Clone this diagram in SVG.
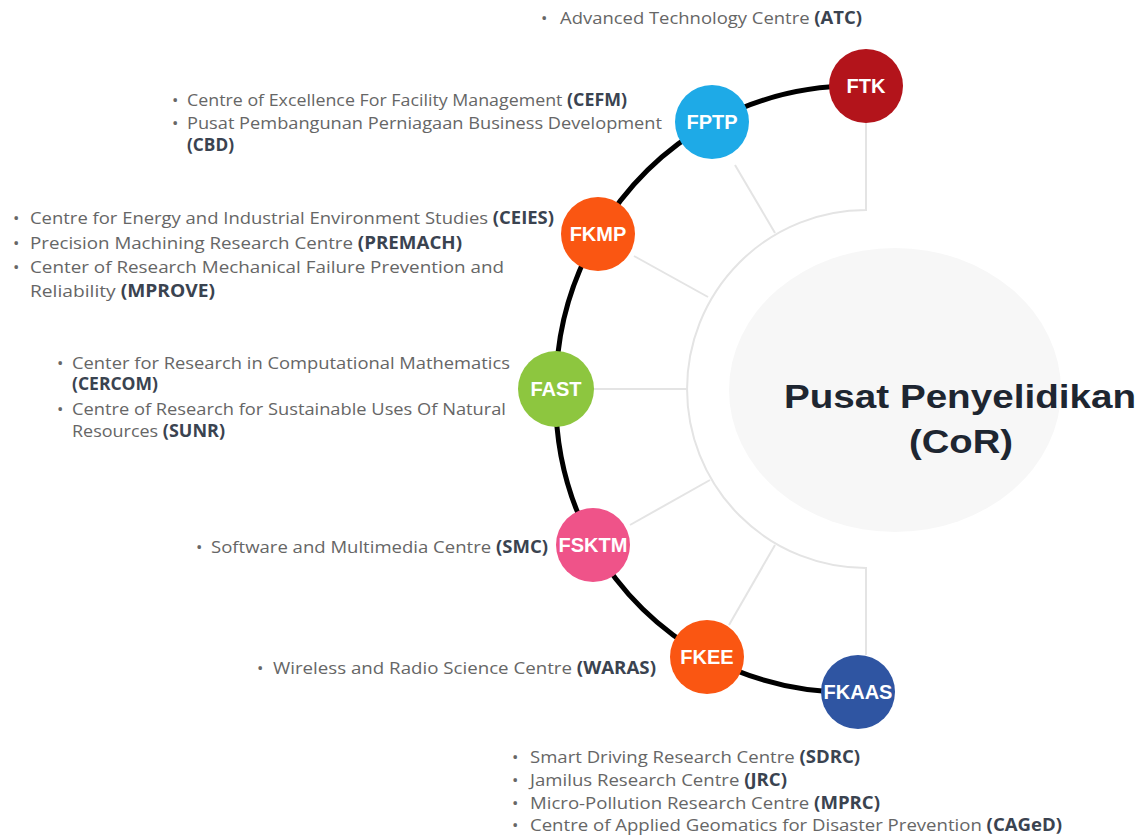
<svg xmlns="http://www.w3.org/2000/svg" width="1141" height="838" viewBox="0 0 1141 838">
<style>
.t{font-family:"Open Sans","Noto Sans",sans-serif;font-size:17px;fill:#666666}
.b{font-weight:bold;fill:#3a4350}
.lbl{font-family:"Liberation Sans",Arial,sans-serif;font-weight:bold;font-size:20px;fill:#ffffff;text-anchor:middle}
.spoke{stroke:#e4e4e4;stroke-width:2;fill:none}
.core{font-family:"Liberation Sans",Arial,sans-serif;font-weight:bold;font-size:33px;fill:#1e2631}
</style>
<rect width="1141" height="838" fill="#ffffff"/>
<g id="center">
<ellipse cx="895" cy="390" rx="166" ry="142" fill="#f7f7f7"/>
<text class="core" x="784" y="408" textLength="352" lengthAdjust="spacingAndGlyphs">Pusat Penyelidikan</text>
<text class="core" x="909" y="453" textLength="104" lengthAdjust="spacingAndGlyphs">(CoR)</text>
</g>
<g id="connectors">
<path class="spoke" d="M866,120 V210 A178,178 0 0 0 866,568 V655"/>
<line class="spoke" x1="735" y1="165" x2="775" y2="233"/>
<line class="spoke" x1="634" y1="256" x2="708" y2="297"/>
<line class="spoke" x1="593" y1="389" x2="688" y2="389"/>
<line class="spoke" x1="630" y1="525" x2="710" y2="480"/>
<line class="spoke" x1="729" y1="625" x2="775" y2="545"/>
<path d="M866,86 A305,305 0 0 0 712,122 A305,305 0 0 0 598,234 A305,305 0 0 0 556,389 A305,305 0 0 0 593,545 A305,305 0 0 0 707,657 A305,305 0 0 0 858,692" fill="none" stroke="#000000" stroke-width="5"/>
</g>
<g id="FTK">
<circle cx="866" cy="86" r="37" fill="#b3141b"/>
<text class="lbl" x="866" y="93">FTK</text>
<text class="t" x="541" y="24">•</text>
<text class="t" x="560" y="24" textLength="302" lengthAdjust="spacingAndGlyphs">Advanced Technology Centre <tspan class="b">(ATC)</tspan></text>
</g>
<g id="FPTP">
<circle cx="712" cy="122" r="37" fill="#1eaae7"/>
<text class="lbl" x="712" y="129">FPTP</text>
<text class="t" x="172" y="106">•</text>
<text class="t" x="187" y="106" textLength="440" lengthAdjust="spacingAndGlyphs">Centre of Excellence For Facility Management <tspan class="b">(CEFM)</tspan></text>
<text class="t" x="172" y="129">•</text>
<text class="t" x="187" y="129" textLength="475" lengthAdjust="spacingAndGlyphs">Pusat Pembangunan Perniagaan Business Development</text>
<text class="t b" x="187" y="151" textLength="47" lengthAdjust="spacingAndGlyphs">(CBD)</text>
</g>
<g id="FKMP">
<circle cx="598" cy="234" r="37" fill="#fa5612"/>
<text class="lbl" x="598" y="241">FKMP</text>
<text class="t" x="13" y="224">•</text>
<text class="t" x="30" y="224" textLength="524" lengthAdjust="spacingAndGlyphs">Centre for Energy and Industrial Environment Studies <tspan class="b">(CEIES)</tspan></text>
<text class="t" x="13" y="249">•</text>
<text class="t" x="30" y="249" textLength="432" lengthAdjust="spacingAndGlyphs">Precision Machining Research Centre <tspan class="b">(PREMACH)</tspan></text>
<text class="t" x="13" y="273">•</text>
<text class="t" x="30" y="273" textLength="474" lengthAdjust="spacingAndGlyphs">Center of Research Mechanical Failure Prevention and</text>
<text class="t" x="30" y="297" textLength="185" lengthAdjust="spacingAndGlyphs">Reliability <tspan class="b">(MPROVE)</tspan></text>
</g>
<g id="FAST">
<circle cx="556" cy="389" r="38" fill="#8dc63f"/>
<text class="lbl" x="556" y="396">FAST</text>
<text class="t" x="57" y="369">•</text>
<text class="t" x="72" y="369" textLength="438" lengthAdjust="spacingAndGlyphs">Center for Research in Computational Mathematics</text>
<text class="t b" x="72" y="390" textLength="86" lengthAdjust="spacingAndGlyphs">(CERCOM)</text>
<text class="t" x="57" y="415">•</text>
<text class="t" x="72" y="415" textLength="434" lengthAdjust="spacingAndGlyphs">Centre of Research for Sustainable Uses Of Natural</text>
<text class="t" x="72" y="437" textLength="153" lengthAdjust="spacingAndGlyphs">Resources <tspan class="b">(SUNR)</tspan></text>
</g>
<g id="FSKTM">
<circle cx="593" cy="545" r="37" fill="#ef5389"/>
<text class="lbl" x="593" y="552">FSKTM</text>
<text class="t" x="196" y="553">•</text>
<text class="t" x="211" y="553" textLength="337" lengthAdjust="spacingAndGlyphs">Software and Multimedia Centre <tspan class="b">(SMC)</tspan></text>
</g>
<g id="FKEE">
<circle cx="707" cy="657" r="37" fill="#fa5612"/>
<text class="lbl" x="707" y="664">FKEE</text>
<text class="t" x="257" y="674">•</text>
<text class="t" x="273" y="674" textLength="383" lengthAdjust="spacingAndGlyphs">Wireless and Radio Science Centre <tspan class="b">(WARAS)</tspan></text>
</g>
<g id="FKAAS">
<circle cx="858" cy="692" r="37" fill="#2f55a2"/>
<text class="lbl" x="858" y="699">FKAAS</text>
<text class="t" x="512" y="763">•</text>
<text class="t" x="530" y="763" textLength="330" lengthAdjust="spacingAndGlyphs">Smart Driving Research Centre <tspan class="b">(SDRC)</tspan></text>
<text class="t" x="512" y="786">•</text>
<text class="t" x="530" y="786" textLength="257" lengthAdjust="spacingAndGlyphs">Jamilus Research Centre <tspan class="b">(JRC)</tspan></text>
<text class="t" x="512" y="809">•</text>
<text class="t" x="530" y="809" textLength="350" lengthAdjust="spacingAndGlyphs">Micro-Pollution Research  Centre <tspan class="b">(MPRC)</tspan></text>
<text class="t" x="512" y="831">•</text>
<text class="t" x="530" y="831" textLength="532" lengthAdjust="spacingAndGlyphs">Centre of Applied Geomatics for Disaster Prevention <tspan class="b">(CAGeD)</tspan></text>
</g>
</svg>
